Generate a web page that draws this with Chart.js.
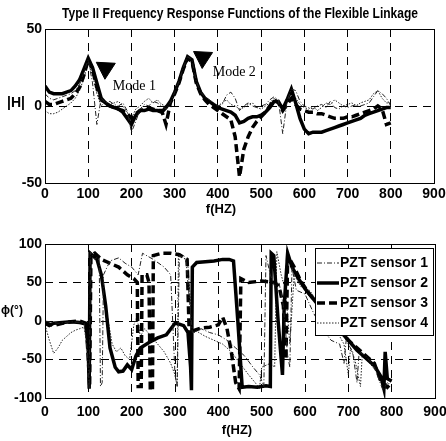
<!DOCTYPE html>
<html>
<head>
<meta charset="utf-8">
<script src="https://cdn.jsdelivr.net/npm/chart.js@4.4.0/dist/chart.umd.min.js"></script>
<style>
    body { margin: 0; background: #fff; width: 446px; height: 441px; overflow: hidden; }
    #magChart { position: absolute; left: 0; top: 0; }
    #phaseChart { position: absolute; left: 0; top: 222px; }
</style>
</head>
<body>
<canvas id="magChart" width="446" height="222"></canvas>
<canvas id="phaseChart" width="446" height="219"></canvas>
<script>
// Sensor names
var sensorNames = ['PZT sensor 1', 'PZT sensor 2', 'PZT sensor 3', 'PZT sensor 4'];

// Magnitude |H| read every 10 Hz
var freqHz = [0, 10, 20, 30, 40, 50, 60, 70, 80, 90,
    100, 110, 120, 130, 140, 150, 160, 170, 180, 190,
    200, 210, 220, 230, 240, 250, 260, 270, 280, 290,
    300, 310, 320, 330, 340, 350, 360, 370, 380, 390,
    400, 410, 420, 430, 440, 450, 460, 470, 480, 490,
    500, 510, 520, 530, 540, 550, 560, 570, 580, 590,
    600, 610, 620, 630, 640, 650, 660, 670, 680, 690,
    700, 710, 720, 730, 740, 750, 760, 770, 780, 790, 800];
var magSensor1 = [8, 5, 4, 5, 6, 7, 8, 10, 14, 22,
    30, 15, -12, 5, 2, 3, 1, 0, 2, -3,
    -17, -10, -2, 1, 0, 3, 2, 0, -2, 2,
    9, 16, 25, 32, 30, 16, 9, 6, 4, 2,
    0, 1, 7, 9, 5, -3, 0, 2, 0, -1,
    0, 1, 4, 6, 4, -18, 3, 11, 10, 3,
    0, -1, -2, 0, 1, -1, 3, -1, -2, 0,
    -1, 0, 1, 0, 1, 2, 6, 10, 8, 5, 0];
var magSensor2 = [13, 9, 8, 8, 8, 9, 10, 13, 17, 24,
    31, 25, 15, 5, 2, 0, -1, -2, -4, -8,
    -12, -6, -3, -3, -2, -3, -3, -4, -1, 3,
    9, 16, 25, 32, 30, 16, 9, 5, 3, 1,
    -1, -2, -3, -4, -6, -11, -10, -8, -7, -7,
    -6, -4, -1, 3, 3, -2, 4, 11, 2, -8,
    -15, -18, -17, -17, -17, -16, -15, -14, -13, -12,
    -11, -10, -9, -8, -6, -5, -4, -3, -2, -1, -1];
var magSensor3 = [3, 1, 1, 2, 3, 4, 5, 8, 12, 20,
    30, 24, 12, 4, 2, 0, -1, -2, -3, -5,
    -8, -5, -3, -2, -1, -2, -3, -3, -12, 2,
    8, 15, 24, 31, 29, 15, 8, 4, 1, -1,
    -3, -5, -7, -9, -20, -46, -28, -20, -14, -10,
    -7, -4, 0, 4, 2, -3, 1, 5, 1, -2,
    -3, -4, -4, -5, -5, -6, -7, -8, -8, -8,
    -7, -7, -6, -5, -4, -3, -2, 0, -2, -12, -11];
var magSensor4 = [-3, -5, -5, -4, -2, 0, 2, 5, 10, 18,
    28, 20, 8, 0, 3, 1, 2, 3, 0, -4,
    -8, -2, 0, 3, 5, 2, 4, 1, 0, 3,
    8, 15, 24, 30, 28, 15, 8, 5, 3, 1,
    0, 2, 4, 1, 0, -2, -1, 1, 2, -1,
    -2, 0, 2, 5, 3, 0, 4, 8, 5, 1,
    -1, -2, 0, -3, -1, 2, 1, 4, 2, 0,
    1, 2, 0, 2, 3, 4, 8, 10, 5, 2, 2];

// Mode markers (arrow heads) and their labels
var modeLabels = ['Mode 1', 'Mode 2'];
var modeArrowFreq = [140, 365];
var modeArrowMag = [24.5, 31.5];
var modeTextFreq = [157, 388];
var modeTextMag = [13, 22];

// Phase (degrees), own frequency points per sensor
var phaseFreq1 = [0, 30, 60, 90, 98, 102, 105, 115, 125, 128, 132, 135, 150, 170, 185, 200, 215, 225, 250, 275,
    290, 300, 305, 310, 325, 340, 360, 380, 400, 420, 440, 460, 480, 495, 505, 510, 520, 530, 540, 550,
    560, 565, 570, 580, 600, 620, 640, 660, 680, 690, 695, 710, 720, 725, 740, 760, 780, 790, 800];
var phaseSensor1 = [0, -3, -1, -2, -40, -88, 90, 80, 85, -85, -80, 60, 78, 82, 75, 70, 60, 88, 80, 70,
    60, -70, -85, 85, 80, -15, -10, -15, -18, -25, -35, -45, -60, -70, -85, 85, 60, 45, 50, 20,
    -45, -60, 70, 40, 35, 10, -10, -25, -30, -55, -25, -40, -80, -40, -45, -60, -90, -80, -75];
var phaseFreq2 = [0, 10, 20, 40, 60, 80, 95, 100, 102, 104, 110, 120, 130, 140, 150, 162, 170, 180, 190, 200,
    210, 220, 240, 260, 280, 300, 310, 320, 330, 336, 338, 340, 350, 370, 390, 410, 425, 435, 445, 455,
    470, 490, 510, 520, 522, 528, 538, 548, 552, 560, 570, 585, 600, 620, 640, 660, 680, 700, 720, 740,
    760, 775, 782, 785, 790, 800];
var phaseSensor2 = [-3, -6, -3, -2, -1, -2, -4, -40, -88, 88, 85, 80, 60, 20, -35, -60, -66, -65, -57, -63,
    -45, -35, -28, -22, -18, -3, -4, -6, -15, -60, -90, 70, 76, 77, 78, 80, 80, 78, 0, -86,
    -85, -86, -84, -85, 88, 85, 0, -70, 20, 88, 70, 55, 42, 28, 14, 0, -12, -25, -38, -48,
    -58, -72, -88, -40, -75, -78];
var phaseFreq3 = [0, 10, 20, 40, 60, 80, 95, 100, 103, 106, 115, 130, 150, 170, 190, 205, 213, 215, 222, 224,
    235, 240, 243, 248, 250, 270, 290, 310, 328, 333, 345, 360, 380, 400, 410, 420, 430, 440, 448, 452,
    470, 500, 530, 540, 550, 556, 560, 575, 590, 610, 640, 670, 700, 730, 760, 775, 790, 800];
var phaseSensor3 = [-2, -4, -6, -3, -1, 0, -3, -50, -85, 85, 88, 80, 75, 70, 60, 55, 50, -85, -85, 60,
    60, 50, -90, -90, 85, 88, 88, 86, 80, -20, -12, -9, -8, -5, 5, -10, -40, -80, -88, 55,
    50, 52, 50, 45, 20, -50, 85, 70, 52, 35, 15, -5, -25, -40, -55, -78, -86, -80];
var phaseFreq4 = [0, 10, 20, 30, 40, 50, 60, 70, 80, 90, 97, 102, 106, 115, 125, 140, 155, 165, 175, 185,
    195, 205, 212, 220, 230, 245, 260, 275, 290, 300, 305, 308, 320, 330, 340, 355, 370, 390, 410, 430,
    450, 470, 485, 495, 500, 520, 530, 535, 545, 555, 565, 575, 590, 610, 630, 650, 670, 690, 700, 705,
    715, 728, 732, 750, 770, 785, 795, 800];
var phaseSensor4 = [-5, -25, -42, -35, -25, -20, -15, -12, -10, -8, -30, -85, 88, 85, 70, 20, -30, -40, -35, -45,
    -50, -5, 5, -20, -10, -20, -30, -40, -55, -70, -85, 88, 85, 70, -10, -15, -20, -25, -30, -40,
    -55, -70, -80, -88, -60, -55, -60, 90, 60, 40, -30, 60, 45, 40, 25, 10, -10, -30, -70, -35,
    -50, -85, -45, -55, -70, -88, -80, -78];

var sansFont = "'Liberation Sans', Arial, sans-serif";
var serifFont = "'Liberation Serif', 'Times New Roman', serif";
var tickFont = { family: sansFont, size: 14, weight: 'bold' };

// Line style of each sensor
var sensorStyles = [
    { width: 1, dash: [5, 2, 1, 2], color: '#222' },
    { width: 3.5, dash: [], color: '#000' },
    { width: 3.5, dash: [8, 4], color: '#000' },
    { width: 1, dash: [1.5, 1.5], color: '#222' }
];

function toPoints(xs, ys) {
    return xs.map(function (x, i) { return { x: x, y: ys[i] }; });
}

function sensorSet(i, points) {
    var st = sensorStyles[i];
    return {
        label: sensorNames[i],
        data: points,
        borderColor: st.color,
        borderWidth: st.width,
        borderDash: st.dash,
        pointRadius: 0,
        tension: 0,
        fill: false
    };
}

function xAxis(height, pad) {
    return {
        type: 'linear', min: 0, max: 900,
        ticks: { stepSize: 100, color: '#000', font: tickFont, padding: pad, maxRotation: 0, autoSkip: false },
        grid: {
            drawTicks: false, lineWidth: 1, borderDash: [8, 6],
            color: function (c) { return (c.tick && c.tick.value > 0 && c.tick.value < 900) ? '#000' : 'rgba(0,0,0,0)'; }
        },
        border: { display: false, dash: [8, 6] },
        afterFit: function (s) { s.height = height; s.paddingLeft = 0; s.paddingRight = 0; }
    };
}

function yAxis(min, max) {
    return {
        min: min, max: max,
        ticks: { stepSize: 50, color: '#000', font: tickFont, padding: 3 },
        grid: {
            drawTicks: false, lineWidth: 1, borderDash: [8, 6],
            color: function (c) { return (c.tick && c.tick.value > min && c.tick.value < max) ? '#000' : 'rgba(0,0,0,0)'; }
        },
        border: { display: false, dash: [8, 6] },
        afterFit: function (s) { s.width = 45; s.paddingTop = 0; s.paddingBottom = 0; }
    };
}

// Box around the plot area
var framePlugin = {
    id: 'frame',
    afterDatasetsDraw: function (chart) {
        var a = chart.chartArea, ctx = chart.ctx;
        ctx.save();
        ctx.strokeStyle = '#000';
        ctx.lineWidth = 1;
        ctx.setLineDash([]);
        ctx.strokeRect(Math.round(a.left) + 0.5, Math.round(a.top) + 0.5, Math.round(a.right - a.left), Math.round(a.bottom - a.top));
        ctx.restore();
    }
};

// Free text: titles, axis names, mode labels
var textPlugin = {
    id: 'freeText',
    afterDraw: function (chart, args, opts) {
        var ctx = chart.ctx;
        (opts.items || []).forEach(function (it) {
            var x = it.x, y = it.y;
            if (it.data) {
                x = chart.scales.x.getPixelForValue(it.x);
                y = chart.scales.y.getPixelForValue(it.y);
            }
            ctx.save();
            ctx.fillStyle = '#000';
            ctx.font = it.font;
            ctx.textAlign = it.align || 'center';
            ctx.textBaseline = 'middle';
            ctx.translate(x, y);
            // stretch or squeeze to the width seen in the picture
            if (it.width) {
                ctx.scale(it.width / ctx.measureText(it.text).width, 1);
            }
            ctx.fillText(it.text, 0, 0);
            ctx.restore();
        });
    }
};

// Boxed legend drawn inside the plot area
var boxLegendPlugin = {
    id: 'boxLegend',
    afterDatasetsDraw: function (chart, args, opts) {
        if (!opts.show) return;
        var ctx = chart.ctx;
        ctx.save();
        ctx.fillStyle = '#fff';
        ctx.fillRect(opts.left, opts.top, opts.width, opts.height);
        ctx.strokeStyle = '#000';
        ctx.lineWidth = 1;
        ctx.setLineDash([]);
        ctx.strokeRect(opts.left + 0.5, opts.top + 0.5, opts.width, opts.height);
        sensorNames.forEach(function (name, i) {
            var st = sensorStyles[i];
            var y = opts.top + opts.firstRow + i * opts.rowGap;
            ctx.beginPath();
            ctx.strokeStyle = st.color;
            ctx.lineWidth = st.width;
            ctx.setLineDash(st.dash);
            ctx.moveTo(opts.left + 2, y);
            ctx.lineTo(opts.left + 24, y);
            ctx.stroke();
            ctx.setLineDash([]);
            ctx.fillStyle = '#000';
            ctx.font = 'bold 14px ' + sansFont;
            ctx.textAlign = 'left';
            ctx.textBaseline = 'middle';
            ctx.fillText(name, opts.left + 25, y);
        });
        ctx.restore();
    }
};

// Magnitude chart
new Chart(document.getElementById('magChart'), {
    type: 'line',
    data: {
        datasets: [
            sensorSet(0, toPoints(freqHz, magSensor1)),
            sensorSet(1, toPoints(freqHz, magSensor2)),
            sensorSet(2, toPoints(freqHz, magSensor3)),
            sensorSet(3, toPoints(freqHz, magSensor4)),
            {
                type: 'scatter',
                label: 'modes',
                data: toPoints(modeArrowFreq, modeArrowMag),
                pointStyle: 'triangle',
                rotation: 183,
                pointRadius: 11,
                backgroundColor: '#000',
                borderColor: '#000',
                showLine: false
            }
        ]
    },
    options: {
        responsive: false,
        animation: false,
        layout: { padding: { left: 0, right: 11, top: 29, bottom: 0 } },
        plugins: {
            legend: { display: false },
            tooltip: { enabled: false },
            freeText: {
                items: [
                    { text: 'Type II Frequency Response Functions of the Flexible Linkage', x: 240, y: 14,
                      font: 'bold 14px ' + sansFont, width: 356 },
                    { text: '|H|', x: 16, y: 103, font: 'bold 14px ' + sansFont },
                    { text: 'f(HZ)', x: 221, y: 209, font: 'bold 13px ' + sansFont },
                    { text: modeLabels[0], x: modeTextFreq[0], y: modeTextMag[0], data: true, align: 'left',
                      font: '14px ' + serifFont },
                    { text: modeLabels[1], x: modeTextFreq[1], y: modeTextMag[1], data: true, align: 'left',
                      font: '14px ' + serifFont }
                ]
            }
        },
        scales: {
            x: xAxis(39, 3),
            y: yAxis(-50, 50)
        }
    },
    plugins: [framePlugin, textPlugin]
});

// Phase chart
new Chart(document.getElementById('phaseChart'), {
    type: 'line',
    data: {
        datasets: [
            sensorSet(0, toPoints(phaseFreq1, phaseSensor1)),
            sensorSet(1, toPoints(phaseFreq2, phaseSensor2)),
            sensorSet(2, toPoints(phaseFreq3, phaseSensor3)),
            sensorSet(3, toPoints(phaseFreq4, phaseSensor4))
        ]
    },
    options: {
        responsive: false,
        animation: false,
        layout: { padding: { left: 0, right: 11, top: 22, bottom: 0 } },
        plugins: {
            legend: { display: false },
            tooltip: { enabled: false },
            boxLegend: { show: true, left: 315, top: 26, width: 118, height: 87, firstRow: 15, rowGap: 20 },
            freeText: {
                items: [
                    { text: '\u03d5(\u00b0)', x: 12, y: 89, font: 'bold 12px ' + sansFont },
                    { text: 'f(HZ)', x: 237, y: 208, font: 'bold 13px ' + sansFont }
                ]
            }
        },
        scales: {
            x: xAxis(43, 6),
            y: yAxis(-100, 100)
        }
    },
    plugins: [framePlugin, boxLegendPlugin, textPlugin]
});
</script>
</body>
</html>
